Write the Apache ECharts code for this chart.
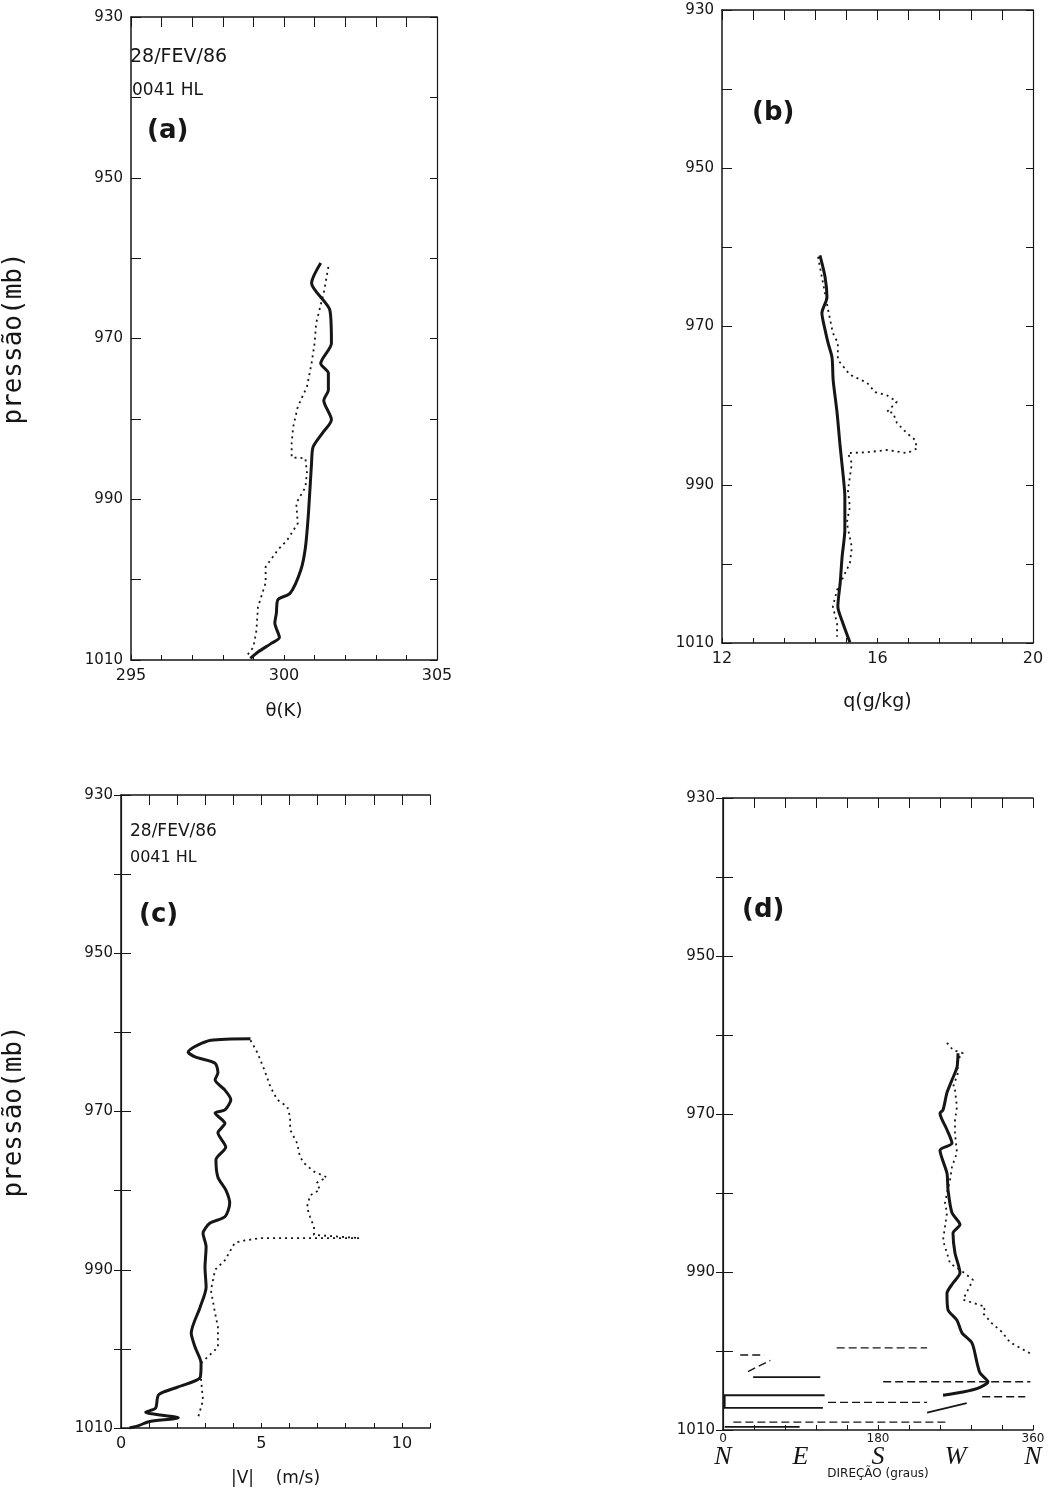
<!DOCTYPE html>
<html>
<head>
<meta charset="utf-8">
<script src="https://cdn.jsdelivr.net/npm/echarts@6/dist/echarts.min.js"></script>
<style>
html, body { margin: 0; padding: 0; background: #fff; }
#chart { width: 1052px; height: 1506px; }
</style>
</head>
<body>
<div id="chart"></div>
<script>
// perfis: [valor, pressão (mb)]
var thetaSolid = [[301.2,960.6],[300.9,963.1],[301.5,966.5],[301.55,970.6],[301.2,973.1],[301.45,974.3],[301.45,976.4],[301.3,977.7],[301.55,980.1],[301.25,981.8],[300.95,983.5],[300.9,985.5],[300.8,991.7],[300.7,996],[300.55,998.8],[300.2,1001.7],[299.8,1002.5],[299.75,1004.2],[299.7,1005.4],[299.85,1007.2],[299.6,1007.9],[299.15,1009],[298.9,1009.8]];
var thetaDotted = [[301.45,961.1],[301.3,964.3],[301.05,968.1],[301.0,970.6],[300.9,973.1],[300.75,976],[300.45,978.5],[300.3,981],[300.25,983],[300.25,984.8],[300.7,984.9],[300.75,986.7],[300.7,988.5],[300.4,990.5],[300.45,993],[300.1,995.1],[299.8,996.3],[299.4,998.4],[299.4,1000.4],[299.15,1003.4],[299.1,1006.3],[299.0,1008.4],[298.8,1009.4]];

var qSolid = [[14.52,961],[14.65,963.7],[14.70,966.3],[14.57,968.3],[14.65,970.4],[14.73,972.1],[14.83,973.9],[14.86,976.8],[14.96,980.9],[15.04,985.2],[15.11,988.5],[15.16,991.5],[15.16,995.7],[15.09,999.1],[15.04,1002.4],[14.98,1005.4],[15.11,1007.5],[15.29,1009.9]];
var qDotted = [[14.47,961.2],[14.73,967.9],[14.85,970.8],[14.98,972.1],[14.98,974.2],[15.29,976.1],[15.73,977.1],[15.94,978.3],[16.24,978.7],[16.50,979.5],[16.24,980.8],[16.40,980.9],[16.50,982.2],[16.76,983.5],[16.96,984.3],[17.02,985.4],[16.76,986],[16.24,985.6],[15.73,985.9],[15.24,986],[15.34,987.3],[15.29,989],[15.24,990.7],[15.29,992.8],[15.21,994.8],[15.34,997.9],[15.29,999.9],[14.96,1003.3],[14.85,1005.4],[14.96,1007.5],[14.96,1009.2]];

var vSolid = [[4.61,960.8],[3.20,961.0],[2.39,962.5],[2.64,963.1],[3.35,963.9],[3.45,965.1],[3.35,966.0],[3.70,967.3],[3.91,968.5],[3.70,969.8],[3.35,970.2],[3.70,971.5],[3.45,972.7],[3.73,974.5],[3.38,976.1],[3.45,978.3],[3.73,979.9],[3.87,981.6],[3.70,983.3],[3.17,984.1],[2.92,985.4],[3.03,987.1],[2.99,989.7],[3.03,992.2],[2.82,994.7],[2.50,998],[2.64,999.8],[2.85,1001.8],[2.82,1003.6],[2.04,1004.8],[1.34,1005.8],[1.23,1007.5],[0.88,1008],[2.04,1008.7],[0.99,1009.2],[0.63,1009.7],[0.3,1010]];
var vDotted = [[4.61,961.0],[4.86,962.6],[5.11,964.8],[5.32,966.9],[5.56,968.5],[5.92,969.4],[6.02,970.7],[6.02,972.3],[6.27,974],[6.37,975.7],[6.51,976.5],[6.87,977.6],[7.32,978.3],[6.97,979],[7.08,979.9],[6.73,980.6],[6.62,982.1],[6.73,983.3],[6.87,984.6],[6.87,985.6],[8.49,986],[4.96,986],[4.40,986.3],[4.05,986.6],[3.70,988.8],[3.35,990],[3.20,992.6],[3.35,995.5],[3.45,997.2],[3.45,999.8],[2.85,1001.8],[2.85,1003.9],[2.92,1006.5],[2.75,1008.6]];

var dirSolid = [[272.9,962.3],[271.7,964.1],[265.9,965.7],[260.1,967.3],[255.5,969.5],[252.0,969.9],[260.1,972],[265.9,973.7],[252.0,974.6],[260.1,977.5],[261.3,979.6],[265.9,982.5],[275.2,984],[267.1,985.1],[269.4,987.6],[275.2,990.1],[267.1,991.4],[260.1,992.7],[261.3,994.8],[271.7,996.1],[277.5,997.7],[289.2,999],[295,1001.5],[298.5,1002.8],[307.7,1003.9],[298.5,1004.6],[278.7,1005.2],[255.5,1005.6]];
var dirDotted = [[260.1,961],[267.1,961.9],[278.7,962.3],[271.7,963.2],[272.9,964.8],[267.1,966.6],[269.4,967],[271.7,969.1],[269.4,970.8],[269.4,972.4],[271.7,974.9],[265.9,976.7],[263.6,978.4],[260.1,980],[257.8,981.3],[260.1,982.5],[255.5,986],[260.1,987.6],[263.6,988.9],[278.7,990],[290.3,991],[278.7,993.5],[304.3,994.4],[301.9,995.2],[312.4,996.5],[324,997.6],[333.3,998.9],[356.5,1000.3]];
// trechos junto à superfície onde a direção cruza 0/360
var dirWrapSolid = [
  [[118,1005.6],[2,1005.6],[2,1007.2],[116,1007.2]],
  [[2,1009.6],[89,1009.6]],
  [[35,1003.3],[113,1003.3]],
  [[237,1007.8],[283,1006.6]]
];
var dirWrapDashed = [
  [[132,999.6],[237,999.6]],
  [[20,1000.5],[48,1000.5]],
  [[29,1002.6],[55,1001.2]],
  [[186,1003.9],[357,1003.9]],
  [[301,1005.8],[351,1005.8]],
  [[122,1006.5],[237,1006.5]],
  [[12,1009],[260,1009]]
];

var pMin = 930, pMax = 1010;
var ink = '#161616';
var fontLab = 'DejaVu Sans';

var grids = [
  { left: 129, top: 17, width: 308, height: 643 },
  { left: 722, top: 10, width: 311, height: 633 },
  { left: 119, top: 795, width: 311, height: 633 },
  { left: 723, top: 798, width: 310, height: 632 }
];

var xDefs = [
  { min: 295, max: 305, interval: 1, name: 'θ(K)', gap: 42, nsize: 18, show: function (v) { return v % 5 === 0; }, fmt: function (v) { return String(v); } },
  { min: 12, max: 20, interval: 0.8, name: 'q(g/kg)', gap: 50, nsize: 19, show: function (v) { return Math.abs(v / 4 - Math.round(v / 4)) < 1e-6; }, fmt: function (v) { return String(Math.round(v)); } },
  { min: 0, max: 11, interval: 1, name: '|V|    (m/s)', gap: 42, nsize: 17, show: function (v) { return v % 5 === 0; }, fmt: function (v) { return String(v); } },
  { min: 0, max: 360, interval: 36, name: 'DIREÇÃO (graus)', gap: 38, nsize: 12, show: function (v) { return v % 180 === 0; }, fmt: function (v) { return String(v); } }
];

var xAxes = [], yAxes = [];
xDefs.forEach(function (d, i) {
  xAxes.push({
    type: 'value', gridIndex: i, position: 'bottom', min: d.min, max: d.max, interval: d.interval,
    name: d.name, nameLocation: 'middle', nameGap: d.gap,
    nameTextStyle: { color: ink, fontFamily: fontLab, fontSize: d.nsize },
    axisLine: { show: true, lineStyle: { color: ink, width: 1.5 } },
    axisTick: { show: true, inside: true, length: 5, lineStyle: { color: ink } },
    axisLabel: { color: ink, fontFamily: fontLab, fontSize: i === 3 ? 12 : 16, margin: i === 3 ? 3 : 8,
      formatter: function (v) { return d.show(v) ? d.fmt(v) : ''; } },
    splitLine: { show: false }
  });
  xAxes.push({
    type: 'value', gridIndex: i, position: 'top', min: d.min, max: d.max, interval: d.interval,
    axisLine: { show: true, lineStyle: { color: ink, width: 1.5 } },
    axisTick: { show: true, inside: true, length: 10, lineStyle: { color: ink } },
    axisLabel: { show: false }, splitLine: { show: false }
  });
  yAxes.push({
    type: 'value', gridIndex: i, position: 'left', inverse: true, min: pMin, max: pMax, interval: 10,
    name: (i === 0 || i === 2) ? 'pressão(mb)' : '', nameLocation: 'middle', nameGap: i === 0 ? 104 : 94,
    nameTextStyle: { color: ink, fontFamily: 'DejaVu Sans Mono', fontSize: 26 },
    axisLine: { show: true, lineStyle: { color: ink, width: 1.5 } },
    axisTick: { show: true, inside: true, length: 10, lineStyle: { color: ink } },
    axisLabel: { color: ink, fontFamily: fontLab, fontSize: 15, margin: 8,
      formatter: function (v) { return (v - pMin) % 20 === 0 ? String(v) : ''; } },
    splitLine: { show: false }
  });
  yAxes.push({
    type: 'value', gridIndex: i, position: 'right', inverse: true, min: pMin, max: pMax, interval: 10,
    axisLine: { show: true, lineStyle: { color: ink, width: 1.2 } },
    axisTick: { show: true, inside: true, length: 7, lineStyle: { color: ink } },
    axisLabel: { show: false }, splitLine: { show: false }
  });
});

// pontos cardeais sob o painel (d)
var cardinal = { 0: 'N', 90: 'E', 180: 'S', 270: 'W', 360: 'N' };
xAxes.push({
  type: 'value', gridIndex: 3, position: 'bottom', offset: 2, min: 0, max: 360, interval: 90,
  axisLine: { show: false }, axisTick: { show: false }, splitLine: { show: false },
  axisLabel: { color: ink, fontFamily: 'Liberation Serif', fontStyle: 'italic', fontSize: 26, margin: 12,
    formatter: function (v) { return cardinal[v] || ''; } }
});

function solid(data, gi) {
  return { type: 'line', xAxisIndex: gi * 2, yAxisIndex: gi * 2, data: data, showSymbol: false, smooth: 0.25,
    lineStyle: { color: ink, width: 3 }, silent: true, animation: false };
}
function dotted(data, gi) {
  return { type: 'line', xAxisIndex: gi * 2, yAxisIndex: gi * 2, data: data, showSymbol: false,
    lineStyle: { color: ink, width: 1.8, type: [2, 4] }, silent: true, animation: false };
}
function wraps(list, gi, dashed) {
  return { type: 'lines', coordinateSystem: 'cartesian2d', xAxisIndex: gi * 2, yAxisIndex: gi * 2, polyline: true,
    data: list.map(function (c) { return { coords: c }; }),
    lineStyle: { color: ink, width: dashed ? 1.4 : 1.8, type: dashed ? [8, 4] : 'solid', opacity: 1 },
    silent: true, animation: false };
}

var txt = function (x, y, s, size, bold) {
  return { type: 'text', left: x, top: y, style: { text: s, fill: ink, font: (bold ? 'bold ' : '') + size + 'px DejaVu Sans' } };
};

var option = {
  backgroundColor: '#fff',
  animation: false,
  grid: grids,
  xAxis: xAxes,
  yAxis: yAxes,
  graphic: [
    txt(130, 48, '28/FEV/86', 19), txt(132, 82, '0041 HL', 17), txt(147, 118, '(a)', 26, true),
    txt(752, 100, '(b)', 26, true),
    txt(130, 823, '28/FEV/86', 17), txt(130, 850, '0041 HL', 16), txt(139, 902, '(c)', 26, true),
    txt(742, 897, '(d)', 26, true)
  ],
  series: [
    solid(thetaSolid, 0), dotted(thetaDotted, 0),
    solid(qSolid, 1), dotted(qDotted, 1),
    solid(vSolid, 2), dotted(vDotted, 2),
    solid(dirSolid, 3), dotted(dirDotted, 3),
    wraps(dirWrapSolid, 3, false), wraps(dirWrapDashed, 3, true)
  ]
};

echarts.init(document.getElementById('chart')).setOption(option);
</script>
</body>
</html>
